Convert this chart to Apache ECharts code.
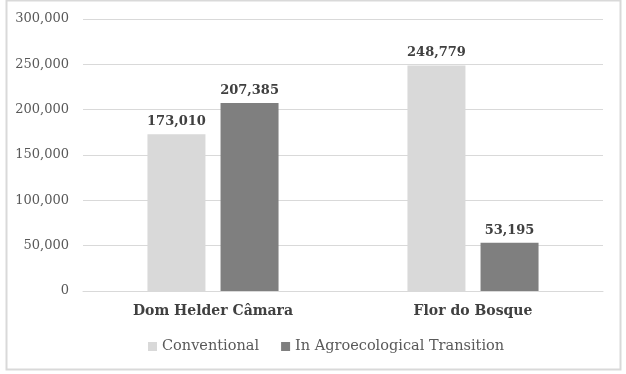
<!DOCTYPE html>
<html>
<head>
<meta charset="utf-8">
<script src="https://cdn.jsdelivr.net/npm/echarts@6/dist/echarts.min.js"></script>
<style>
  html, body { margin: 0; padding: 0; background: #fff; }
  #chart { width: 626px; height: 374px; }
</style>
</head>
<body>
<div id="chart"></div>
<script>
var categories = ['Dom Helder Câmara', 'Flor do Bosque'];
var conventional = [173010, 248779];
var agroecological = [207385, 53195];
var seriesNames = ['Conventional', 'In Agroecological Transition'];

var dom = document.getElementById('chart');
var myChart = echarts.init(dom, null, { renderer: 'canvas' });

var font = 'DejaVu Serif';

function fmt(v) {
  return v.toLocaleString('en-US');
}

var option = {
  animation: false,
  textStyle: { fontFamily: font },
  graphic: [
    {
      type: 'rect',
      shape: { x: 6.5, y: 0.5, width: 614, height: 369 },
      style: { fill: 'none', stroke: '#d9d9d9', lineWidth: 2 }
    }
  ],
  grid: { left: 83, right: 23, top: 19, bottom: 83, containLabel: false },
  legend: {
    bottom: 15,
    left: 143,
    itemWidth: 9,
    itemHeight: 9,
    itemGap: 22,
    icon: 'rect',
    textStyle: { fontFamily: font, fontSize: 14.5, color: '#595959' },
    data: seriesNames
  },
  xAxis: {
    type: 'category',
    data: categories,
    axisLine: { lineStyle: { color: '#d9d9d9', width: 1 } },
    axisTick: { show: false },
    axisLabel: {
      fontFamily: font,
      fontSize: 14,
      fontWeight: 'bold',
      color: '#404040',
      margin: 13
    }
  },
  yAxis: {
    type: 'value',
    min: 0,
    max: 300000,
    interval: 50000,
    axisLine: { show: false },
    axisTick: { show: false },
    splitLine: { lineStyle: { color: '#d9d9d9', width: 1 } },
    axisLabel: {
      fontFamily: font,
      fontSize: 13,
      color: '#595959',
      margin: 14,
      formatter: fmt
    }
  },
  series: [
    {
      name: seriesNames[0],
      type: 'bar',
      data: conventional,
      barWidth: 58,
      barGap: '26%',
      itemStyle: { color: '#d9d9d9' },
      label: {
        show: true,
        position: 'top',
        distance: 6,
        fontFamily: font,
        fontSize: 13,
        fontWeight: 'bold',
        color: '#404040',
        formatter: function (p) { return fmt(p.value); }
      }
    },
    {
      name: seriesNames[1],
      type: 'bar',
      data: agroecological,
      barWidth: 58,
      barGap: '26%',
      itemStyle: { color: '#7f7f7f' },
      label: {
        show: true,
        position: 'top',
        distance: 6,
        fontFamily: font,
        fontSize: 13,
        fontWeight: 'bold',
        color: '#404040',
        formatter: function (p) { return fmt(p.value); }
      }
    }
  ]
};

myChart.setOption(option);
window.addEventListener('resize', myChart.resize);
</script>
</body>
</html>
